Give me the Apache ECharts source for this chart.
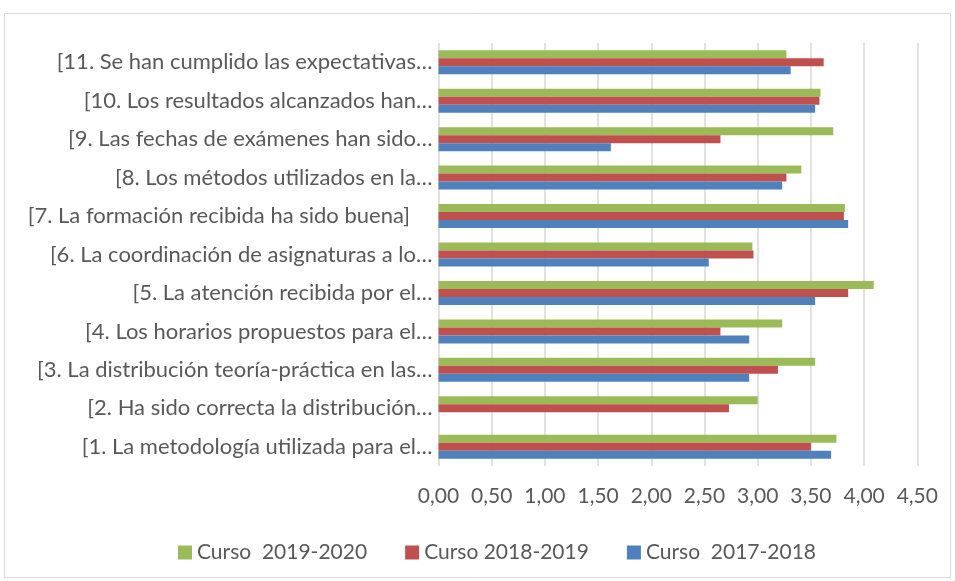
<!DOCTYPE html>
<html><head><meta charset="utf-8">
<script src="https://cdn.jsdelivr.net/npm/echarts@6/dist/echarts.min.js"></script>
<style>html,body{margin:0;padding:0;background:#fff}#c{width:955px;height:581px}</style>
</head><body><div id="c"></div>
<script>
const categories = [
  "[1. La metodología utilizada para el…",
  "[2. Ha sido correcta la distribución…",
  "[3. La distribución teoría-práctica en las…",
  "[4. Los horarios propuestos para el…",
  "[5. La atención recibida por el…",
  "[6. La coordinación de asignaturas a lo…",
  "[7. La formación recibida ha sido buena]    ",
  "[8. Los métodos utilizados en la…",
  "[9. Las fechas de exámenes han sido…",
  "[10. Los resultados alcanzados han…",
  "[11. Se han cumplido las expectativas…"
];
const curso1920 = [3.74, 3.00, 3.54, 3.23, 4.09, 2.95, 3.82, 3.41, 3.71, 3.59, 3.27];
const curso1819 = [3.50, 2.73, 3.19, 2.65, 3.85, 2.96, 3.81, 3.27, 2.65, 3.58, 3.62];
const curso1718 = [3.69, null, 2.92, 2.92, 3.54, 2.54, 3.85, 3.23, 1.62, 3.54, 3.31];
const seriesNames = ["Curso  2019-2020", "Curso 2018-2019", "Curso  2017-2018"];
const xTicks = {min: 0, max: 4.5, interval: 0.5};

const colors = ["#9bbb59", "#c0504d", "#4f81bd"];
const FONT = "Lato";
const chart = echarts.init(document.getElementById('c'), null, {renderer: 'canvas'});
const mk = (name, data, i) => ({
  name, type: 'bar', data, barWidth: 8, barGap: '0%',
  itemStyle: {color: colors[i]}, emphasis: {disabled: true}
});
chart.setOption({
  animation: false,
  textStyle: {fontFamily: FONT},
  graphic: [{type: 'rect', shape: {x: 4.5, y: 13.5, width: 946, height: 564}, style: {fill: 'none', stroke: '#d9d9d9', lineWidth: 1}, silent: true}],
  grid: {left: 438.5, right: 37.7, top: 43, bottom: 115, containLabel: false},
  xAxis: {
    type: 'value', min: xTicks.min, max: xTicks.max, interval: xTicks.interval,
    axisLine: {show: false}, axisTick: {show: false},
    splitLine: {lineStyle: {color: '#d9d9d9', width: 1.5}},
    axisLabel: {color: '#595959', fontSize: 21, fontFamily: FONT, margin: 20,
      formatter: v => v.toFixed(2).replace('.', ',')}
  },
  yAxis: {
    type: 'category', data: categories,
    axisLine: {show: false}, axisTick: {show: false},
    axisLabel: {color: '#595959', fontSize: 22, fontFamily: FONT, margin: 6}
  },
  legend: {
    data: seriesNames, top: 537, left: 173, itemWidth: 14, itemHeight: 14, itemGap: 38,
    icon: 'rect', textStyle: {color: '#595959', fontSize: 21, fontFamily: FONT}
  },
  series: [mk(seriesNames[0], curso1920, 0), mk(seriesNames[1], curso1819, 1), mk(seriesNames[2], curso1718, 2)]
});
</script></body></html>
